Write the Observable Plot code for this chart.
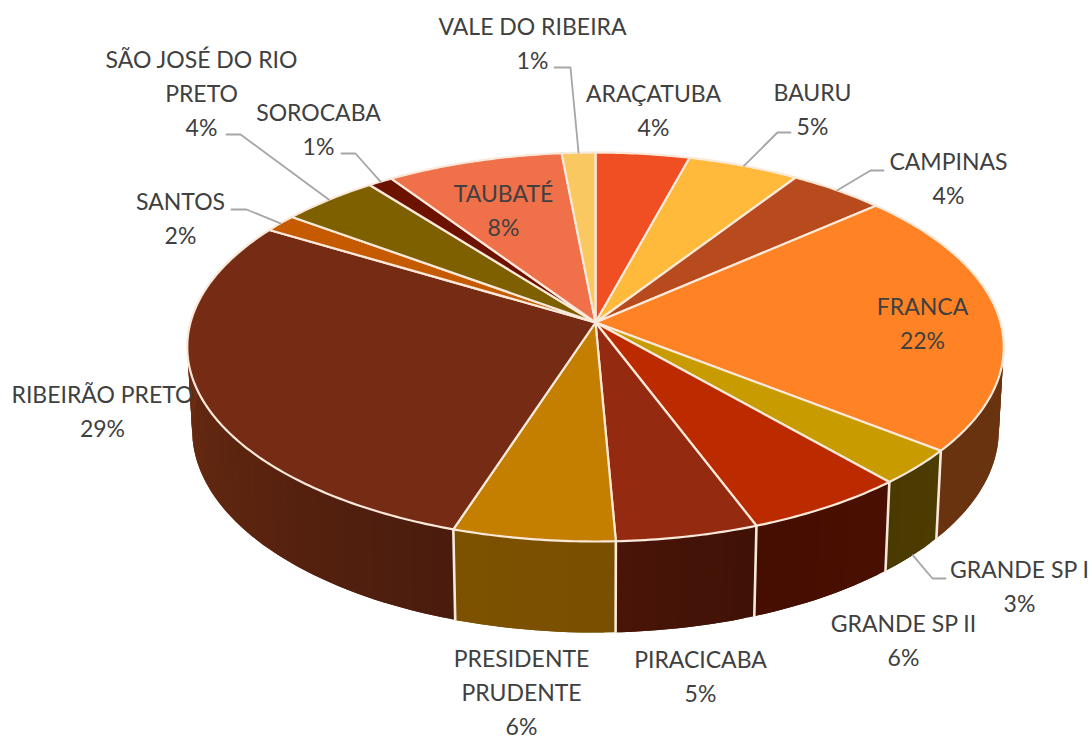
<!DOCTYPE html>
<html>
<head>
<meta charset="utf-8">
<script src="https://cdn.jsdelivr.net/npm/d3@7"></script>
<script src="https://cdn.jsdelivr.net/npm/@observablehq/plot@0.6"></script>
<style>html,body{margin:0;padding:0;background:#fff}svg{display:block}</style>
</head>
<body>
<div id="chart"></div>
<script>
// Data
const regions = ["ARAÇATUBA","BAURU","CAMPINAS","FRANCA","GRANDE SP I","GRANDE SP II","PIRACICABA","PRESIDENTE\nPRUDENTE","RIBEIRÃO PRETO","SANTOS","SÃO JOSÉ DO RIO\nPRETO","SOROCABA","TAUBATÉ","VALE DO RIBEIRA"];
const shares = [4.2,5.0,4.3,22.1,3.0,5.7,5.0,5.7,28.6,1.5,4.4,1.1,7.9,1.45];

// Colours
const topColors = ["#F04E23","#FFBA3B","#B84B1E","#FF8325","#C89B00","#BC2B00","#942B10","#C47F00","#752B14","#C55A00","#7F6000","#6E1200","#F0704A","#FAC860"];
const wallFrom  = ["#8A2A10","#8A6420","#60260F","#6D3510","#4C3C00","#4A0F00","#3F1206","#7A4F00","#4A1C0D","#5A2800","#3F3000","#3A0900","#803A22","#806530"];
const wallTo    = ["#8A2A10","#8A6420","#60260F","#693310","#4A3A00","#450E00","#4A1508","#7C5200","#7C3414","#5A2800","#3F3000","#3A0900","#803A22","#806530"];

// Label placement (centre of each label block) and leader elbows
const labelX = [653,812,948,922,1019,903,700,521,102,180,201,318,503,532];
const labelY = [108,107,176,321,584,638,674,690,409,216,91,127,208,41];
const leaderStart = [null,[790,132],[883,170],null,[945,578],null,null,null,null,[231,209],[226,134],[341,153],null,[554,67]];
const leaderElbow = [null,[777,132],[870,170],null,[932,578],null,null,null,null,[246,209],[240,134],[355,153],null,[570,67]];
const leaderDepth = [0,0,0,0,1,0,0,0,0,0,0,0,0,0];

// Perspective of the pie disc
const view = {cx:595, cy:322, A:405, B:191.4, D:83.3, p:0.126, q:0.012};
const project = (pct, h) => {
  const t = pct / 100 * 2 * Math.PI, X = Math.sin(t), Z = Math.cos(t);
  const w = 1 + view.p * Z + view.q * h;
  return {x: view.cx + view.A * X / w, y: view.cy + (-view.B * Z + view.D * h) / w};
};

// Cumulative slice bounds
let acc = 0;
const slices = regions.map((name, i) => {
  const a = acc; acc += shares[i];
  return {i, name, a, b: i === regions.length - 1 ? 100 : acc};
});
const stepsOf = s => d3.range(s.a, s.b, 0.2).concat([s.b]);

// Top faces
const topPts = slices.flatMap(s => {
  const rim = stepsOf(s).map(v => project(v, 0));
  const apex = {x: view.cx, y: view.cy};
  return [apex, ...rim, apex].map(p => ({...p, id: s.i, fill: topColors[s.i]}));
});

// Side wall strips; each strip reaches under the next one so no seam shows
const wallPts = slices.flatMap(s => {
  const st = d3.range(s.a, s.b, 0.4).concat([s.b]);
  const mix = d3.interpolateRgb(wallFrom[s.i], wallTo[s.i]);
  return st.slice(0, -1).flatMap((v, k) => {
    const c = mix((v - s.a) / (s.b - s.a));
    const id = `${s.i}-${k}`;
    const span = st.slice(k, k + 3);
    const front = span.map(u => project(u, 0));
    const back = span.slice().reverse().map(u => project(u, 1));
    return [...front, ...back, project(v, 0)].map(p => ({...p, id, fill: c}));
  });
});

// Vertical separators on the front of the wall
const sepPts = slices.filter(s => Math.cos(s.a / 100 * 2 * Math.PI) < 0 && s.a > 25)
  .flatMap(s => [project(s.a,0), project(s.a,1)].map(p => ({...p, id: s.i})));

// Leader lines
const leaderPts = slices.filter(s => leaderStart[s.i]).flatMap(s => {
  const end = project((s.a + s.b) / 2, leaderDepth[s.i]);
  return [
    {x: leaderStart[s.i][0], y: leaderStart[s.i][1], id: s.i},
    {x: leaderElbow[s.i][0], y: leaderElbow[s.i][1], id: s.i},
    {...end, id: s.i}
  ];
});

// Labels
const labels = slices.map(s => ({
  x: labelX[s.i], y: labelY[s.i],
  text: `${s.name}\n${Math.round(shares[s.i])}%`
}));

const cream = "#F9E9DA";
const chart = Plot.plot({
  width: 1092, height: 739,
  marginTop: 0, marginRight: 0, marginBottom: 0, marginLeft: 0,
  x: {domain: [0, 1092], axis: null},
  y: {domain: [739, 0], axis: null},
  color: {type: "identity"},
  style: {background: "#fff"},
  marks: [
    Plot.line(wallPts, {x:"x", y:"y", z:"id", fill:"fill", stroke:"none"}),
    Plot.line(sepPts, {x:"x", y:"y", z:"id", stroke:cream, strokeWidth:2.6}),
    Plot.line(topPts, {x:"x", y:"y", z:"id", fill:"fill", stroke:cream, strokeWidth:2.2, strokeLinejoin:"round"}),
    Plot.line(leaderPts, {x:"x", y:"y", z:"id", stroke:"#A6A6A6", strokeWidth:1.8}),
    Plot.text(labels, {x:"x", y:"y", text:"text", textAnchor:"middle", lineAnchor:"middle", lineHeight:1.48,
      fontFamily:"Lato", fontSize:23, fill:"#404040"})
  ]
});
document.getElementById("chart").append(chart);
</script>
</body>
</html>
